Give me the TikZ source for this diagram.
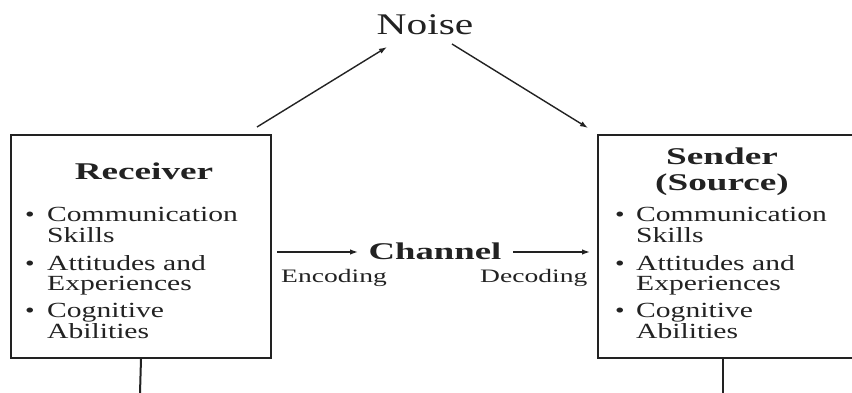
\documentclass[tikz,border=0pt]{standalone}
\usepackage{fontspec}
\setmainfont{Liberation Serif}
\usetikzlibrary{arrows.meta}
\newcommand\hs[2]{\scalebox{#1}[1]{#2}}
\definecolor{ink}{HTML}{222222}
\begin{document}
\begin{tikzpicture}[x=1pt,y=-1pt,
  box/.style={draw=ink,line width=2pt,minimum height=223pt,anchor=north west,inner sep=0pt},
  arr/.style={draw=ink,line width=1.4pt,-{Latex[length=8pt,width=5.5pt]}},
  stub/.style={draw=ink,line width=2pt},
  item/.style={anchor=base west,inner sep=0pt,text=ink,font=\fontsize{21.6}{22}\selectfont},
  bul/.style={anchor=base west,inner sep=0pt,text=ink,font=\fontsize{21}{22}\selectfont},
  head/.style={anchor=base,inner sep=0pt,text=ink,font=\fontsize{24}{26}\selectfont\bfseries},
  lab/.style={anchor=base west,inner sep=0pt,text=ink,font=\fontsize{19}{20}\selectfont}]
\useasboundingbox (0,0) rectangle (852,393);
\fill[white] (0,0) rectangle (852,393);

% boxes
\node[box,minimum width=260pt] (recv) at (10,134) {};
\node[box,minimum width=258pt] (snd) at (597,134) {};

% headings
\node[head] (rt) at (144,179) {\hs{1.55}{Receiver}};
\node[head] (st1) at (722,165) {\hs{1.55}{Sender}};
\node[head] (st2) at (722,190) {\hs{1.55}{(Source)}};

% left items
\node[bul] (lb1) at (25,222) {\hs{1.3}{•}};
\node[item] (l1a) at (47,222) {\hs{1.37}{Communication}};
\node[item] (l1b) at (47,242) {\hs{1.37}{Skills}};
\node[bul] (lb2) at (25,270) {\hs{1.3}{•}};
\node[item] (l2a) at (47,270) {\hs{1.37}{Attitudes and}};
\node[item] (l2b) at (47,290) {\hs{1.37}{Experiences}};
\node[bul] (lb3) at (25,317) {\hs{1.3}{•}};
\node[item] (l3a) at (47,317) {\hs{1.37}{Cognitive}};
\node[item] (l3b) at (47,338) {\hs{1.37}{Abilities}};

% right items
\node[bul] (rb1) at (615,222) {\hs{1.3}{•}};
\node[item] (r1a) at (636,222) {\hs{1.37}{Communication}};
\node[item] (r1b) at (636,243) {\hs{1.37}{Skills}};
\node[bul] (rb2) at (615,270) {\hs{1.3}{•}};
\node[item] (r2a) at (636,270) {\hs{1.37}{Attitudes and}};
\node[item] (r2b) at (636,290) {\hs{1.37}{Experiences}};
\node[bul] (rb3) at (615,317) {\hs{1.3}{•}};
\node[item] (r3a) at (636,317) {\hs{1.37}{Cognitive}};
\node[item] (r3b) at (636,338) {\hs{1.37}{Abilities}};

% noise
\node[anchor=base,inner sep=0pt,text=ink,font=\fontsize{30}{32}\selectfont] (noise) at (425,35) {\hs{1.38}{Noise}};
\draw[arr] ([shift={(-15,-7)}]recv.north east) -- ([shift={(-38,12)}]noise.base);
\draw[arr] ([shift={(27,9)}]noise.base) -- ([shift={(-9,-6)}]snd.north west);

% channel
\node[head] (chan) at (435,259) {\hs{1.53}{Channel}};
\node[lab] (enc) at (281,282) {\hs{1.45}{Encoding}};
\node[lab] (dec) at (480,282) {\hs{1.45}{Decoding}};
\coordinate (c1) at (277,252);
\coordinate (c2) at (358,252);
\coordinate (c3) at (513,252);
\coordinate (c4) at (590,252);
\draw[arr] (c1) -- (c2);
\draw[arr] (c3) -- (c4);

% stubs
\coordinate (ls) at (140,393);
\coordinate (rs0) at (723,357);
\coordinate (rs) at (723,393);
\draw[stub] (recv.south) -- (ls);
\draw[stub] (rs0) -- (rs);
\end{tikzpicture}
\end{document}
